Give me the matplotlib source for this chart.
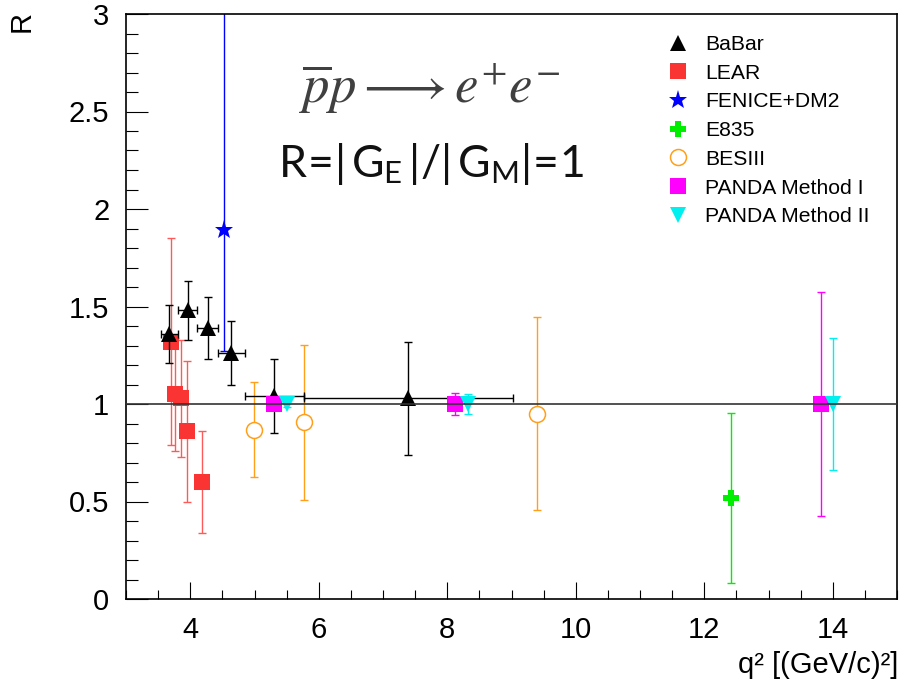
import matplotlib
matplotlib.use("Agg")
import matplotlib.pyplot as plt
from matplotlib.lines import Line2D
from matplotlib.ticker import FixedLocator, MultipleLocator, FixedFormatter

plt.rcParams['font.family'] = ['Liberation Sans', 'DejaVu Sans']
plt.rcParams['mathtext.fontset'] = 'custom'
plt.rcParams['mathtext.rm'] = 'Lato'
plt.rcParams['mathtext.it'] = 'Lato:italic'
plt.rcParams['mathtext.bf'] = 'Lato:bold'

# ---------------- data ----------------
babar_q2 = [3.675, 3.96, 4.27, 4.64, 5.31, 7.395]
babar_q2_err = [0.135, 0.15, 0.16, 0.21, 0.46, 1.625]
babar_R = [1.36, 1.48, 1.39, 1.26, 1.04, 1.03]
babar_R_err = [0.15, 0.15, 0.16, 0.165, 0.19, 0.29]

lear_q2 = [3.695, 3.77, 3.85, 3.95, 4.19]
lear_R = [1.32, 1.05, 1.03, 0.86, 0.60]
lear_R_err = [0.53, 0.29, 0.30, 0.36, 0.26]

fenice_q2 = [4.52]
fenice_R = [1.89]
fenice_R_err_low = [0.62]
fenice_R_err_high = [1.2]

e835_q2 = [12.42]
e835_R = [0.518]
e835_R_err = [0.438]

besiii_q2 = [4.99, 5.77, 9.40]
besiii_R = [0.868, 0.906, 0.949]
besiii_R_err = [0.244, 0.398, 0.495]

panda1_q2 = [5.30, 8.12, 13.82]
panda1_R = [1.0, 1.0, 1.0]
panda1_R_err = [0.015, 0.055, 0.575]

panda2_q2 = [5.51, 8.32, 14.0]
panda2_R = [1.0, 1.0, 1.0]
panda2_R_err = [0.015, 0.052, 0.34]

xtick_values = [4, 6, 8, 10, 12, 14]
xtick_labels = ['4', '6', '8', '10', '12', '14']
ytick_values = [0, 0.5, 1, 1.5, 2, 2.5, 3]
ytick_labels = ['0', '0.5', '1', '1.5', '2', '2.5', '3']

legend_labels = ['BaBar', 'LEAR', 'FENICE+DM2', 'E835', 'BESIII',
                 'PANDA Method I', 'PANDA Method II']

# ---------------- figure ----------------
W, H = 900, 692
fig = plt.figure(figsize=(9, 6.92), dpi=100)
ax = fig.add_axes([126 / W, 1 - 599 / H, (897 - 126) / W, (599 - 14) / H])
ax.set_xlim(3, 15)
ax.set_ylim(0, 3)

cap = 3
C_BABAR = 'black'
C_LEAR = '#fa3333'
C_LEAR_E = '#ff5a5a'
C_FEN = '#0000ff'
C_E835 = '#00ee00'
C_BES = '#ff9f1a'
C_P1 = '#ff00ff'
C_P2 = '#00f0f0'


def draw(x, y, yerr, ecolor, z, xerr=None):
    ax.errorbar(x, y, xerr=xerr, yerr=yerr, fmt='none', ecolor=ecolor,
                elinewidth=1, capsize=cap, capthick=1, zorder=z)


draw(lear_q2, lear_R, lear_R_err, C_LEAR_E, 2)
ax.plot(lear_q2, lear_R, ls='none', marker='s', color=C_LEAR, ms=11, mew=0, zorder=3)
draw(babar_q2, babar_R, babar_R_err, C_BABAR, 3, xerr=babar_q2_err)
ax.plot(babar_q2, babar_R, ls='none', marker='^', color=C_BABAR, ms=11, mew=0, zorder=4)
draw(fenice_q2, fenice_R, [fenice_R_err_low, fenice_R_err_high], C_FEN, 2)
ax.plot(fenice_q2, fenice_R, ls='none', marker='*', color=C_FEN, ms=14, mew=0, zorder=3)
draw(e835_q2, e835_R, e835_R_err, C_E835, 2)
ax.plot(e835_q2, e835_R, ls='none', marker='P', color=C_E835, ms=12, mew=0, zorder=3)
draw(besiii_q2, besiii_R, besiii_R_err, C_BES, 2)
ax.plot(besiii_q2, besiii_R, ls='none', marker='o', mfc='white', mec=C_BES, ms=11.5,
        mew=1.1, zorder=3)
draw(panda1_q2, panda1_R, panda1_R_err, C_P1, 4)
ax.plot(panda1_q2, panda1_R, ls='none', marker='s', color=C_P1, ms=11, mew=0, zorder=5)
draw(panda2_q2, panda2_R, panda2_R_err, C_P2, 4)
ax.plot(panda2_q2, panda2_R, ls='none', marker='v', color=C_P2, ms=11, mew=0, zorder=5)

ax.axhline(1.0, color='#333333', lw=1.2, zorder=6)

# axes style (ROOT-like)
for s in ax.spines.values():
    s.set_linewidth(1.2)
ax.xaxis.set_major_locator(FixedLocator(xtick_values))
ax.xaxis.set_major_formatter(FixedFormatter(xtick_labels))
ax.xaxis.set_minor_locator(MultipleLocator(0.5))
ax.yaxis.set_major_locator(FixedLocator(ytick_values))
ax.yaxis.set_major_formatter(FixedFormatter(ytick_labels))
ax.yaxis.set_minor_locator(MultipleLocator(0.1))
ax.tick_params(axis='both', which='both', direction='in', width=0.8, labelsize=21)
ax.tick_params(axis='x', which='major', length=12, pad=12)
ax.tick_params(axis='x', which='minor', length=6.5)
ax.tick_params(axis='y', which='major', length=16, pad=12)
ax.tick_params(axis='y', which='minor', length=8.5)

fig.text(898 / W, 1 - 665 / H, 'q² [(GeV/c)²]', ha='right', va='center', fontsize=21)
fig.text(22 / W, 1 - 21 / H, 'R', ha='center', va='center', rotation=90, fontsize=21)

# annotations
fig.text(430 / W, 1 - 88 / H, r'$\overline{p}p \longrightarrow e^{+}e^{-}$',
         ha='center', va='center', fontsize=38, color='#404040', math_fontfamily='stix')
fig.text(431 / W, 1 - 177 / H,
         r'$\mathrm{R}\!=\!|\,\mathrm{G}_{\mathrm{E}}\,|/|\,\mathrm{G}_{\mathrm{M}}|\!=\!1$',
         ha='center', va='baseline', fontsize=32, color='#111111', math_fontfamily='custom')

# legend
handles = [
    Line2D([], [], ls='none', marker='^', color=C_BABAR, ms=11, mew=0),
    Line2D([], [], ls='none', marker='s', color=C_LEAR, ms=11, mew=0),
    Line2D([], [], ls='none', marker='*', color=C_FEN, ms=14, mew=0),
    Line2D([], [], ls='none', marker='P', color=C_E835, ms=12, mew=0),
    Line2D([], [], ls='none', marker='o', mfc='white', mec=C_BES, ms=11.5, mew=1.1),
    Line2D([], [], ls='none', marker='s', color=C_P1, ms=11, mew=0),
    Line2D([], [], ls='none', marker='v', color=C_P2, ms=11, mew=0),
]
fig.legend(handles, legend_labels, loc='upper left', bbox_to_anchor=(667 / W, 1 - 35 / H),
           frameon=False, fontsize=15.2, handlelength=1.0, handletextpad=0.8,
           labelspacing=0.46, borderpad=0, borderaxespad=0)

fig.savefig('out.png', dpi=100)
